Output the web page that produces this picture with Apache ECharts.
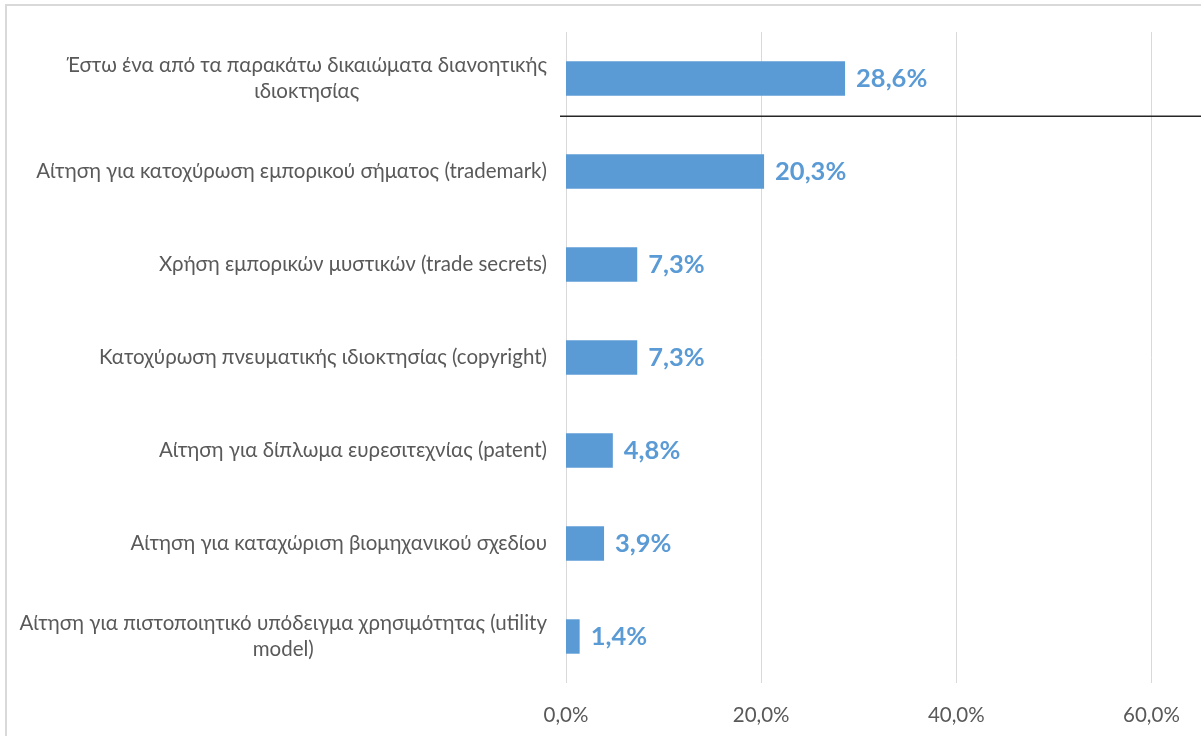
<!DOCTYPE html>
<html>
<head>
<meta charset="utf-8">
<script src="https://cdn.jsdelivr.net/npm/echarts@6/dist/echarts.min.js"></script>
<style>
html,body{margin:0;padding:0;background:#fff;}
#chart{width:1201px;height:736px;}
</style>
</head>
<body>
<div id="chart"></div>
<script>
const categories = [
  'Έστω ένα από τα παρακάτω δικαιώματα διανοητικής\nιδιοκτησίας',
  'Αίτηση για κατοχύρωση εμπορικού σήματος (trademark)',
  'Χρήση εμπορικών μυστικών (trade secrets)',
  'Κατοχύρωση πνευματικής ιδιοκτησίας (copyright)',
  'Αίτηση για δίπλωμα ευρεσιτεχνίας (patent)',
  'Αίτηση για καταχώριση βιομηχανικού σχεδίου',
  'Αίτηση για πιστοποιητικό υπόδειγμα χρησιμότητας (utility\nmodel)'
];
const values = [28.6, 20.3, 7.3, 7.3, 4.8, 3.9, 1.4];
const xTicks = [0, 20, 40, 60];

const FONT = 'Lato, "Liberation Sans Narrow", "Noto Sans", sans-serif';
const chart = echarts.init(document.getElementById('chart'));
const fmtPct = v => v.toFixed(1).replace('.', ',') + '%';

chart.setOption({
  animation: false,
  backgroundColor: '#fff',
  grid: { left: 566, top: 32, bottom: 53, right: -48, containLabel: false, outerBoundsMode: 'none' },
  xAxis: {
    type: 'value', min: 0, max: 70, interval: 20,
    axisLine: { show: false }, axisTick: { show: false },
    splitLine: { show: true, lineStyle: { color: '#d9d9d9', width: 1 } },
    axisLabel: {
      color: '#595959', fontFamily: FONT, fontSize: 20.5, margin: 22,
      formatter: v => xTicks.includes(v) ? fmtPct(v) : ''
    }
  },
  yAxis: {
    type: 'category', data: categories, inverse: true,
    axisLine: { show: false }, axisTick: { show: false },
    splitLine: { show: false },
    axisLabel: {
      color: '#595959', fontFamily: FONT, fontSize: 20.5, margin: 19,
      lineHeight: 26,
      formatter: v => v.split('\n').map(s => '{c|' + s + '}').join('\n'),
      rich: { c: { align: 'center', color: '#595959', fontFamily: FONT, fontSize: 20.5, lineHeight: 26 } }
    }
  },
  series: [{
    type: 'bar', data: values, barCategoryGap: '63%',
    itemStyle: { color: '#5B9BD5' },
    label: {
      show: true, position: 'right', distance: 11,
      color: '#5B9BD5', fontFamily: FONT, fontSize: 25.5, fontWeight: 'bold',
      formatter: p => fmtPct(p.value)
    }
  }]
});

// separator line between first and second category, border frame
const p0 = chart.convertToPixel({ gridIndex: 0 }, [0, 0]);
const p1 = chart.convertToPixel({ gridIndex: 0 }, [0, 1]);
const ySep = p0[1] + 0.405 * (p1[1] - p0[1]);
chart.setOption({
  graphic: [
    { type: 'rect', shape: { x: 6, y: 5, width: 1400, height: 1000 },
      style: { fill: 'none', stroke: '#d9d9d9', lineWidth: 2 }, silent: true },
    { type: 'line', shape: { x1: p0[0] - 6, y1: ySep, x2: 1201, y2: ySep },
      style: { stroke: '#262626', lineWidth: 1.5 }, silent: true }
  ]
});
</script>
</body>
</html>
